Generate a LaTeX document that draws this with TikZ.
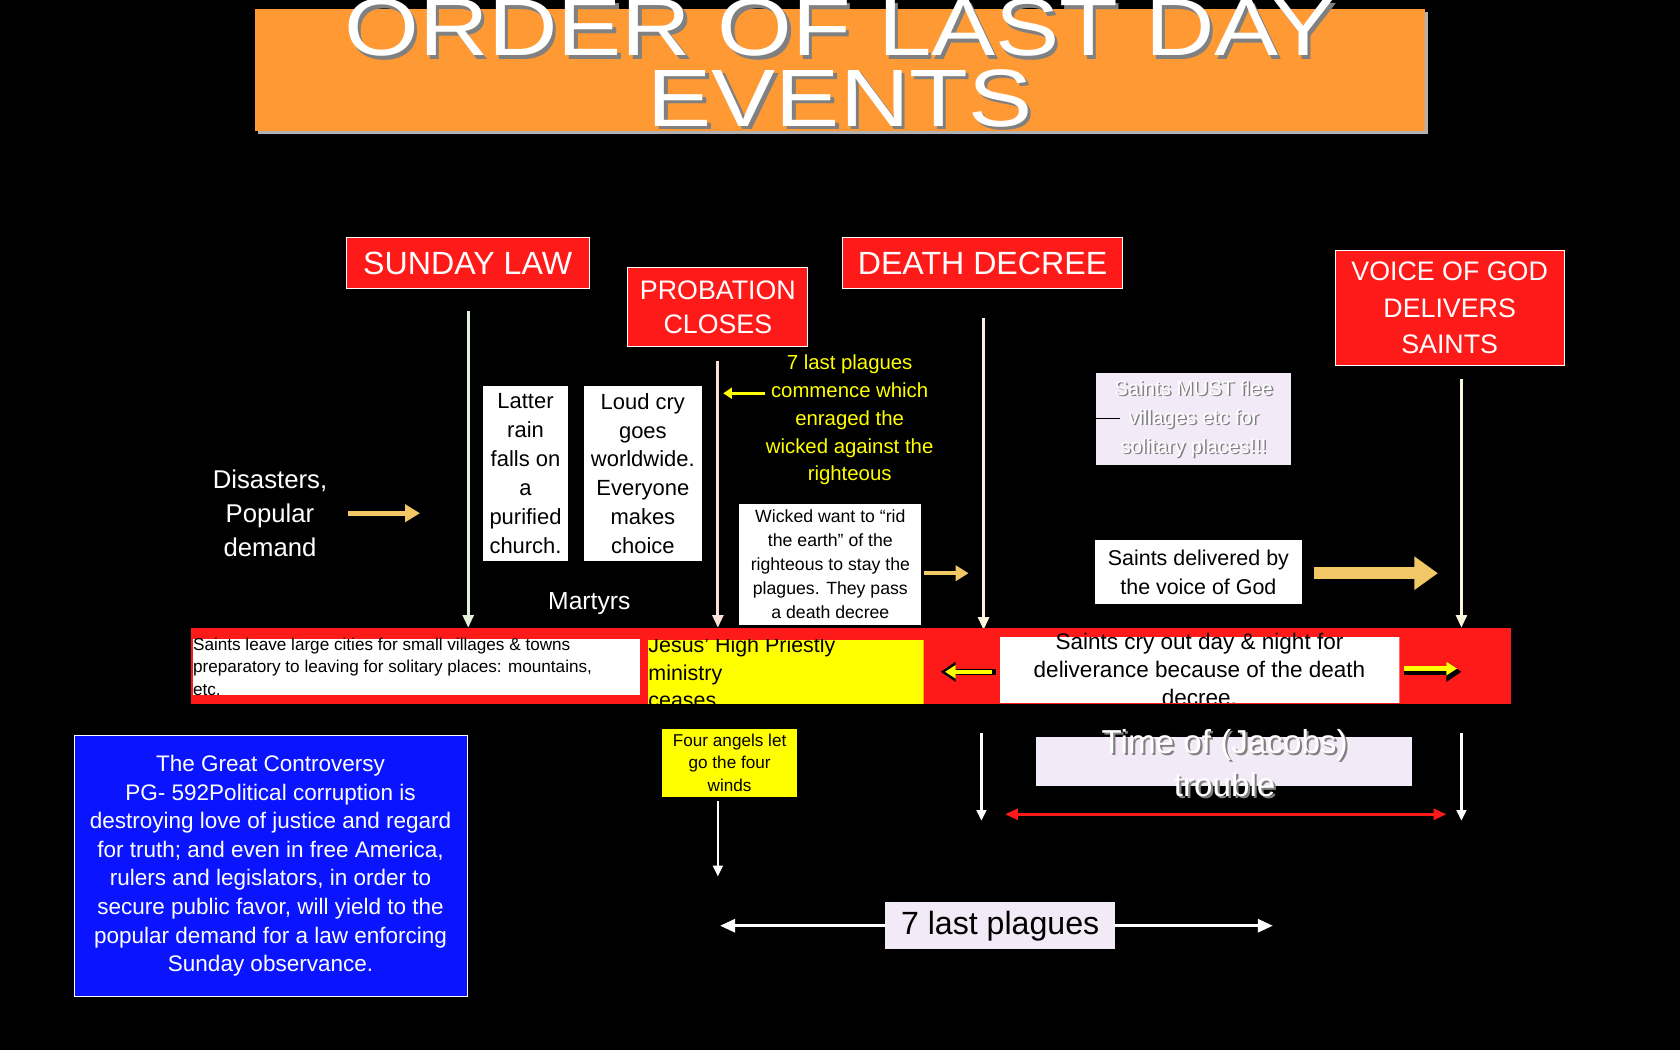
\documentclass[tikz,border=0pt]{standalone}
\usepackage{fontspec}
\setmainfont{Liberation Sans}
\usetikzlibrary{arrows.meta}
\definecolor{org}{HTML}{FF9933}
\definecolor{rd}{HTML}{FF1A1A}
\definecolor{ylw}{HTML}{FFFF00}
\definecolor{arr}{HTML}{F2C866}
\definecolor{lav}{HTML}{F3EAF8}
\definecolor{blu}{HTML}{0A14FF}
\begin{document}
\begin{tikzpicture}[x=1pt,y=-1pt,
 redbox/.style={fill=rd,draw=white,line width=0.8pt,text=white,align=center,inner sep=0pt},
 wbox/.style={fill=white,text=black,align=center,inner sep=2pt},
 down/.style={-{Triangle[length=12pt,width=10pt]},line width=3pt},
 fat/.style={-{Triangle[length=14pt,width=16pt]},line width=5pt,draw=arr},
 big/.style={font=\fontsize{30}{32}\selectfont}]
\fill[black] (0,0) rectangle (1568,980);
\useasboundingbox (0,0) rectangle (1568,980);
% title
\fill[gray!60] (241,11) rectangle (1333,125);
\node[fill=org,minimum width=1092pt,minimum height=114pt,inner sep=0pt] (title) at (784,65) {};
\begin{scope}
\clip (0,0) rectangle (1568,980);
\node[text=gray,font=\fontsize{76}{66}\selectfont,align=center,xscale=1.18] at (787,62) {ORDER OF LAST DAY\\EVENTS};
\node[text=white,font=\fontsize{76}{66}\selectfont,align=center,xscale=1.18] (tt) at (784,59) {ORDER OF LAST DAY\\EVENTS};
\end{scope}
% headers
\node[redbox,minimum width=227pt,minimum height=47pt,big] (sl) at (436.5,245.5) {SUNDAY LAW};
\node[redbox,minimum width=168pt,minimum height=73pt,font=\fontsize{25}{32}\selectfont] (pc) at (670,286.5) {PROBATION\\CLOSES};
\node[redbox,minimum width=262pt,minimum height=47pt,big] (dd) at (917,245.5) {DEATH DECREE};
\node[redbox,minimum width=214pt,minimum height=107pt,font=\fontsize{25}{34}\selectfont] (vg) at (1353,287.5) {VOICE OF GOD\\DELIVERS\\SAINTS};
% down arrows
\coordinate (a1s) at (437,290); \coordinate (a1e) at (437,586);
\coordinate (a2s) at (670,337); \coordinate (a2e) at (670,586);
\coordinate (a3s) at (918,297); \coordinate (a3e) at (918,588);
\coordinate (a4s) at (1364,354); \coordinate (a4e) at (1364,586);
\draw[down,draw={rgb,255:red,225;green,240;blue,215}] (a1s) -- (a1e);
\draw[down,draw={rgb,255:red,250;green,225;blue,215}] (a2s) -- (a2e);
\draw[down,draw={rgb,255:red,250;green,245;blue,220}] (a3s) -- (a3e);
\draw[down,draw={rgb,255:red,250;green,245;blue,220}] (a4s) -- (a4e);
% disasters
\node[text=white,align=center,font=\fontsize{24}{32}\selectfont] (dis) at (252,479) {Disasters,\\Popular\\demand};
\coordinate (d1) at (325,479); \coordinate (d2) at (392,479);
\draw[fat] (d1) -- (d2);
\node[wbox,minimum width=79pt,minimum height=164pt,font=\fontsize{20.5}{27}\selectfont,inner sep=0pt] (lr) at (490.5,442) {Latter\\rain\\falls on\\a\\purified\\church.};
\node[wbox,minimum width=110pt,minimum height=164pt,font=\fontsize{20.5}{27}\selectfont,inner sep=0pt] (lc) at (600,442) {Loud cry\\goes\\worldwide.\\Everyone\\makes\\choice};
\node[text=white,font=\fontsize{23}{26}\selectfont] (mar) at (550,563) {Martyrs};
\node[text=ylw,align=center,font=\fontsize{19}{26}\selectfont] (pl) at (793,392) {7 last plagues\\commence which\\enraged the\\wicked against the\\righteous};
\coordinate (y1) at (714,367); \coordinate (y2) at (675,367);
\draw[-{Triangle[length=8pt,width=10pt]},line width=3pt,draw=ylw] (y1) -- (y2);
\node[wbox,minimum width=170pt,minimum height=113pt,inner sep=0pt,font=\fontsize{16.5}{22.5}\selectfont] (wk) at (775,526.5) {Wicked want to “rid\\the earth” of the\\righteous to stay the\\plagues. They pass\\a death decree};
\coordinate (w1) at (862,535); \coordinate (w2) at (904,535);
\draw[-{Triangle[length=12pt,width=14pt]},line width=4pt,draw=arr] (w1) -- (w2);
\node[fill=lav,minimum width=182pt,minimum height=86pt,inner sep=0pt] (mf) at (1114,391) {};
\node[text=gray,align=center,font=\fontsize{19}{27}\selectfont] at (1115.5,392.5) {Saints MUST flee\\villages etc for\\solitary places!!!};
\node[text=white,align=center,font=\fontsize{19}{27}\selectfont] (mft) at (1114,391) {Saints MUST flee\\villages etc for\\solitary places!!!};
\draw[black,line width=1pt] (1023,391) -- (1045,391);
\node[wbox,minimum width=193pt,minimum height=60pt,font=\fontsize{20}{27}\selectfont,inner sep=0pt] (sd) at (1118.5,534) {Saints delivered by\\the voice of God};
\coordinate (s1) at (1226,535); \coordinate (s2) at (1342,535);
\draw[-{Triangle[length=22pt,width=30pt]},line width=11pt,draw=arr] (s1) -- (s2);
% bar
\fill[rd] (178,586) rectangle (1410,657);
\node[wbox,minimum width=417pt,minimum height=52pt,inner sep=0pt,anchor=north west] (sv) at (180,596) {};
\node[anchor=north west,align=left,font=\fontsize{16}{21}\selectfont,inner sep=0pt] at (180,595) {Saints leave large cities for small villages \& towns\\preparatory to leaving for solitary places: mountains,\\etc.};
\begin{scope}
\clip (605,597) rectangle (862,657);
\node[fill=ylw,minimum width=257pt,minimum height=60pt,anchor=north west,inner sep=0pt] (jh) at (605,597) {};
\node[anchor=north west,align=left,font=\fontsize{20}{26}\selectfont,inner sep=0pt] at (605,594) {Jesus’ High Priestly\\ministry\\ceases};
\end{scope}
\begin{scope}
\clip (933,586) rectangle (1306,656);
\node[wbox,minimum width=373pt,minimum height=62pt,anchor=north west,inner sep=0pt] (sc) at (933,594) {};
\node[text=black,align=center,font=\fontsize{21}{26}\selectfont] at (1119.5,625) {Saints cry out day \& night for\\deliverance because of the death\\decree.};
\end{scope}
\coordinate (b1) at (930,627); \coordinate (b2) at (878,627);
\draw[-{Triangle[length=14pt,width=18pt]},line width=6pt,draw=black] (b1) -- (b2);
\draw[-{Triangle[length=10pt,width=12pt]},line width=4pt,draw=ylw] (926,627) -- (882,627);
\coordinate (c1) at (1310,627); \coordinate (c2) at (1364,627);
\draw[-{Triangle[length=14pt,width=18pt]},line width=6pt,draw=black] (c1) -- (c2);
\draw[-{Triangle[length=10pt,width=12pt]},line width=4pt,draw=ylw] (1310,624) -- (1360,624);
% lower
\node[fill=ylw,minimum width=126pt,minimum height=64pt,inner sep=0pt,align=center,font=\fontsize{16}{21}\selectfont] (fa) at (681,712) {Four angels let\\go the four\\winds};
\coordinate (f1) at (670,748); \coordinate (f2) at (670,818);
\draw[-{Triangle[length=10pt,width=9pt]},line width=2pt,white] (f1) -- (f2);
\coordinate (g1) at (916,684); \coordinate (g2) at (916,766);
\coordinate (h1) at (1364,684); \coordinate (h2) at (1364,766);
\draw[-{Triangle[length=10pt,width=9pt]},line width=2.5pt,white] (g1) -- (g2);
\draw[-{Triangle[length=10pt,width=9pt]},line width=2.5pt,white] (h1) -- (h2);
\node[fill=lav,minimum width=351pt,minimum height=46pt,inner sep=0pt] (jt) at (1142.5,711) {};
\node[text=gray,align=center,font=\fontsize{31}{40}\selectfont] at (1145,714) {Time of (Jacobs)\\trouble};
\node[text=white,align=center,font=\fontsize{31}{40}\selectfont] (jtt) at (1143,712) {Time of (Jacobs)\\trouble};
\coordinate (r1) at (938,760); \coordinate (r2) at (1350,760);
\draw[{Triangle[length=12pt,width=10pt]}-{Triangle[length=12pt,width=10pt]},line width=3pt,rd] (r1) -- (r2);
\coordinate (p1) at (672,864); \coordinate (p2) at (1188,864);
\draw[{Triangle[length=14pt,width=12pt]}-{Triangle[length=14pt,width=12pt]},line width=3pt,white] (p1) -- (p2);
\node[fill=lav,minimum width=215pt,minimum height=44pt,inner sep=0pt,font=\fontsize{30}{32}\selectfont] (lp) at (933.5,864) {7 last plagues};
\node[fill=blu,draw=white,line width=0.6pt,minimum width=367pt,minimum height=244pt,inner sep=0pt,text=white,align=center,font=\fontsize{21}{26.7}\selectfont] (gc) at (252.5,808) {The Great Controversy\\PG- 592Political corruption is\\destroying love of justice and regard\\for truth; and even in free America,\\rulers and legislators, in order to\\secure public favor, will yield to the\\popular demand for a law enforcing\\Sunday observance.};
\end{tikzpicture}
\end{document}
